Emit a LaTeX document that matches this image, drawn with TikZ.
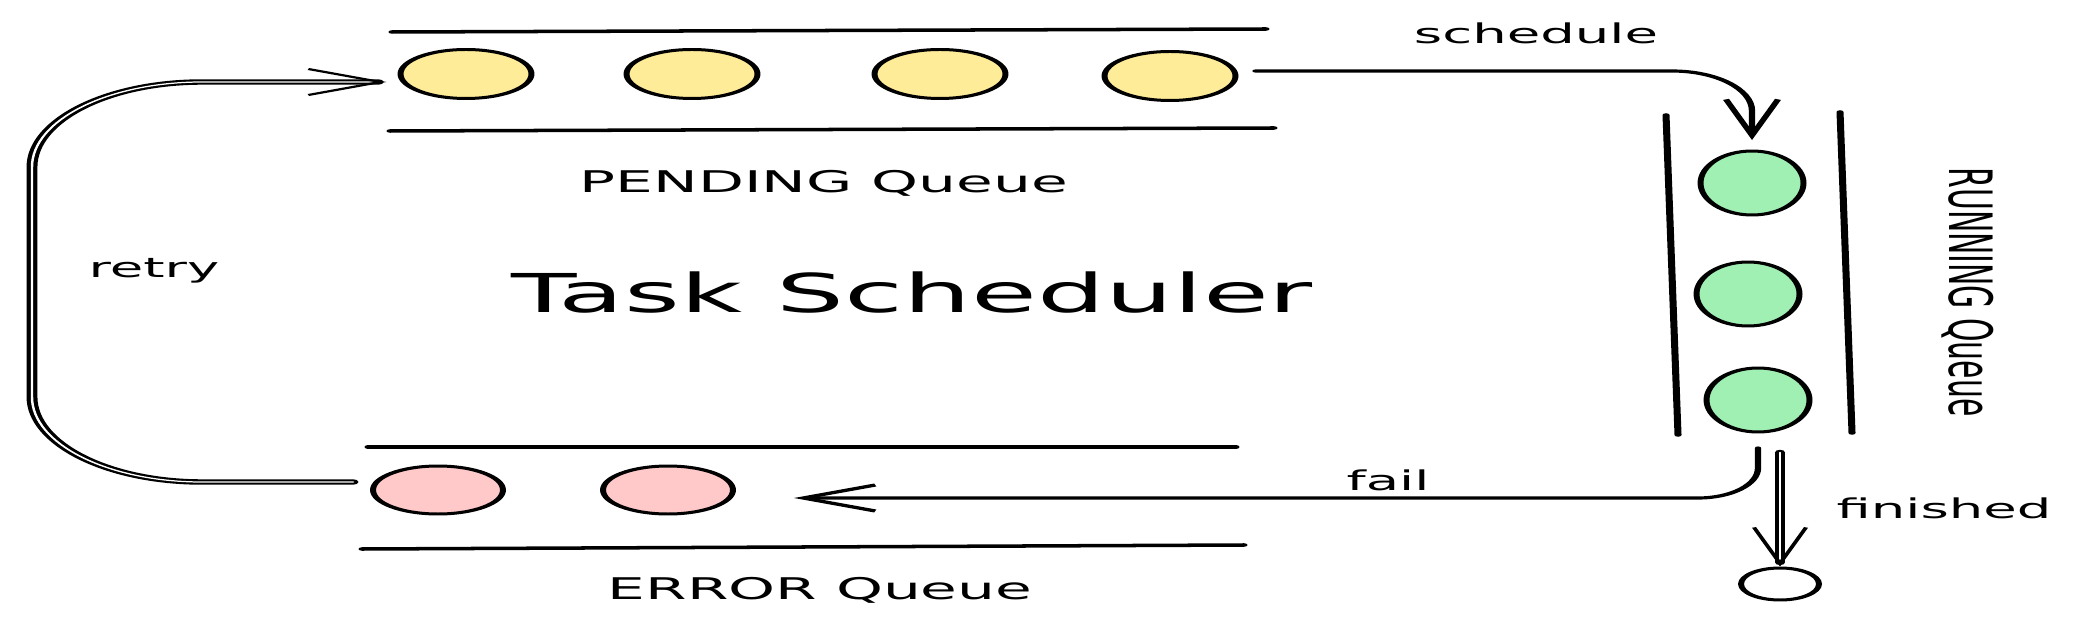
\documentclass[tikz,border=0pt]{standalone}
\usepackage{fontspec}
\setmainfont{DejaVu Sans}
\usetikzlibrary{arrows.meta,shapes.geometric}
\definecolor{pendcol}{HTML}{FFEC99}
\definecolor{runcol}{HTML}{A0F0B4}
\definecolor{errcol}{HTML}{FFC9C9}
\tikzset{
  task/.style={ellipse,draw,line width=1.7pt,inner sep=0pt,minimum width=1.31cm,minimum height=0.98cm},
  pending/.style={task,fill=pendcol},
  running/.style={task,fill=runcol,minimum width=1.03cm,minimum height=1.28cm},
  failed/.style={task,fill=errcol,minimum width=1.30cm,minimum height=0.96cm},
  rail/.style={line width=2pt,line cap=round},
  flow/.style={line width=1.8pt,line cap=round,-{Straight Barb[length=0.72cm,width=0.52cm]}},
  twin/.style={flow,double,double distance=0.7pt,line width=1.2pt},
  lbl/.style={font=\fontsize{17pt}{20pt}\selectfont,anchor=base},
  edgelbl/.style={font=\fontsize{15.5pt}{19pt}\selectfont,anchor=base},
  heading/.style={font=\fontsize{30.5pt}{36pt}\selectfont,anchor=base}
}
\begin{document}
\begin{tikzpicture}[x=0.02cm,y=-0.02cm]
  \useasboundingbox (0,0) rectangle (2074,624);
  \begin{scope}[transform canvas={xscale=2}]
    \draw[rail] (196,32) -- (633,29);
    \draw[rail] (195,131) -- (637,128);
    \node[pending] (p1) at (233,74) {};
    \node[pending] (p2) at (346,74) {};
    \node[pending] (p3) at (470,74) {};
    \node[pending] (p4) at (585,76) {};
    \node[lbl] (pendq) at (412,193) {PENDING Queue};

    \node[heading] (title) at (456,313) {Task Scheduler};

    \draw[rail] (833,115) -- (839,435);
    \draw[rail] (920,112) -- (926,433);
    \node[running] (r1) at (876,183) {};
    \node[running] (r2) at (874,294) {};
    \node[running] (r3) at (879,400) {};
    \node[lbl,anchor=center,rotate=-90] (runq) at (984,292) {RUNNING Queue};

    \draw[rail] (184,447) -- (618,447);
    \draw[rail] (181,549) -- (622,545);
    \node[failed] (e1) at (219,490) {};
    \node[failed] (e2) at (334,490) {};
    \node[lbl] (errq) at (410,599) {ERROR Queue};

    \node[ellipse,draw,fill=white,line width=1.7pt,inner sep=0pt,minimum width=0.78cm,minimum height=0.64cm] (done) at (890,584) {};
    \coordinate (loop) at (16,280);

    \draw[flow,rounded corners=0.8cm,shorten <=0.17cm,shorten >=0.19cm] ([yshift=0.1cm]p4.east) -| (r1.north);
    \node[edgelbl] at (768,44) {schedule};
    \draw[flow,rounded corners=0.6cm,shorten <=0.29cm,shorten >=0.58cm] (r3.south) |- ([yshift=-0.16cm]e2.east);
    \node[edgelbl] at (694,490) {fail};
    \draw[twin,shorten <=0.38cm] (done.north |- r3.south) -- (done.north);
    \node[edgelbl] at (972,518) {finished};
    \draw[twin,rounded corners=1.7cm,shorten <=0.17cm,shorten >=0.11cm] ([yshift=0.16cm]e1.west) -| (loop) |- ([yshift=-0.16cm]p1.west);
    \node[edgelbl] at (77,278) {retry};
  \end{scope}
\end{tikzpicture}
\end{document}
